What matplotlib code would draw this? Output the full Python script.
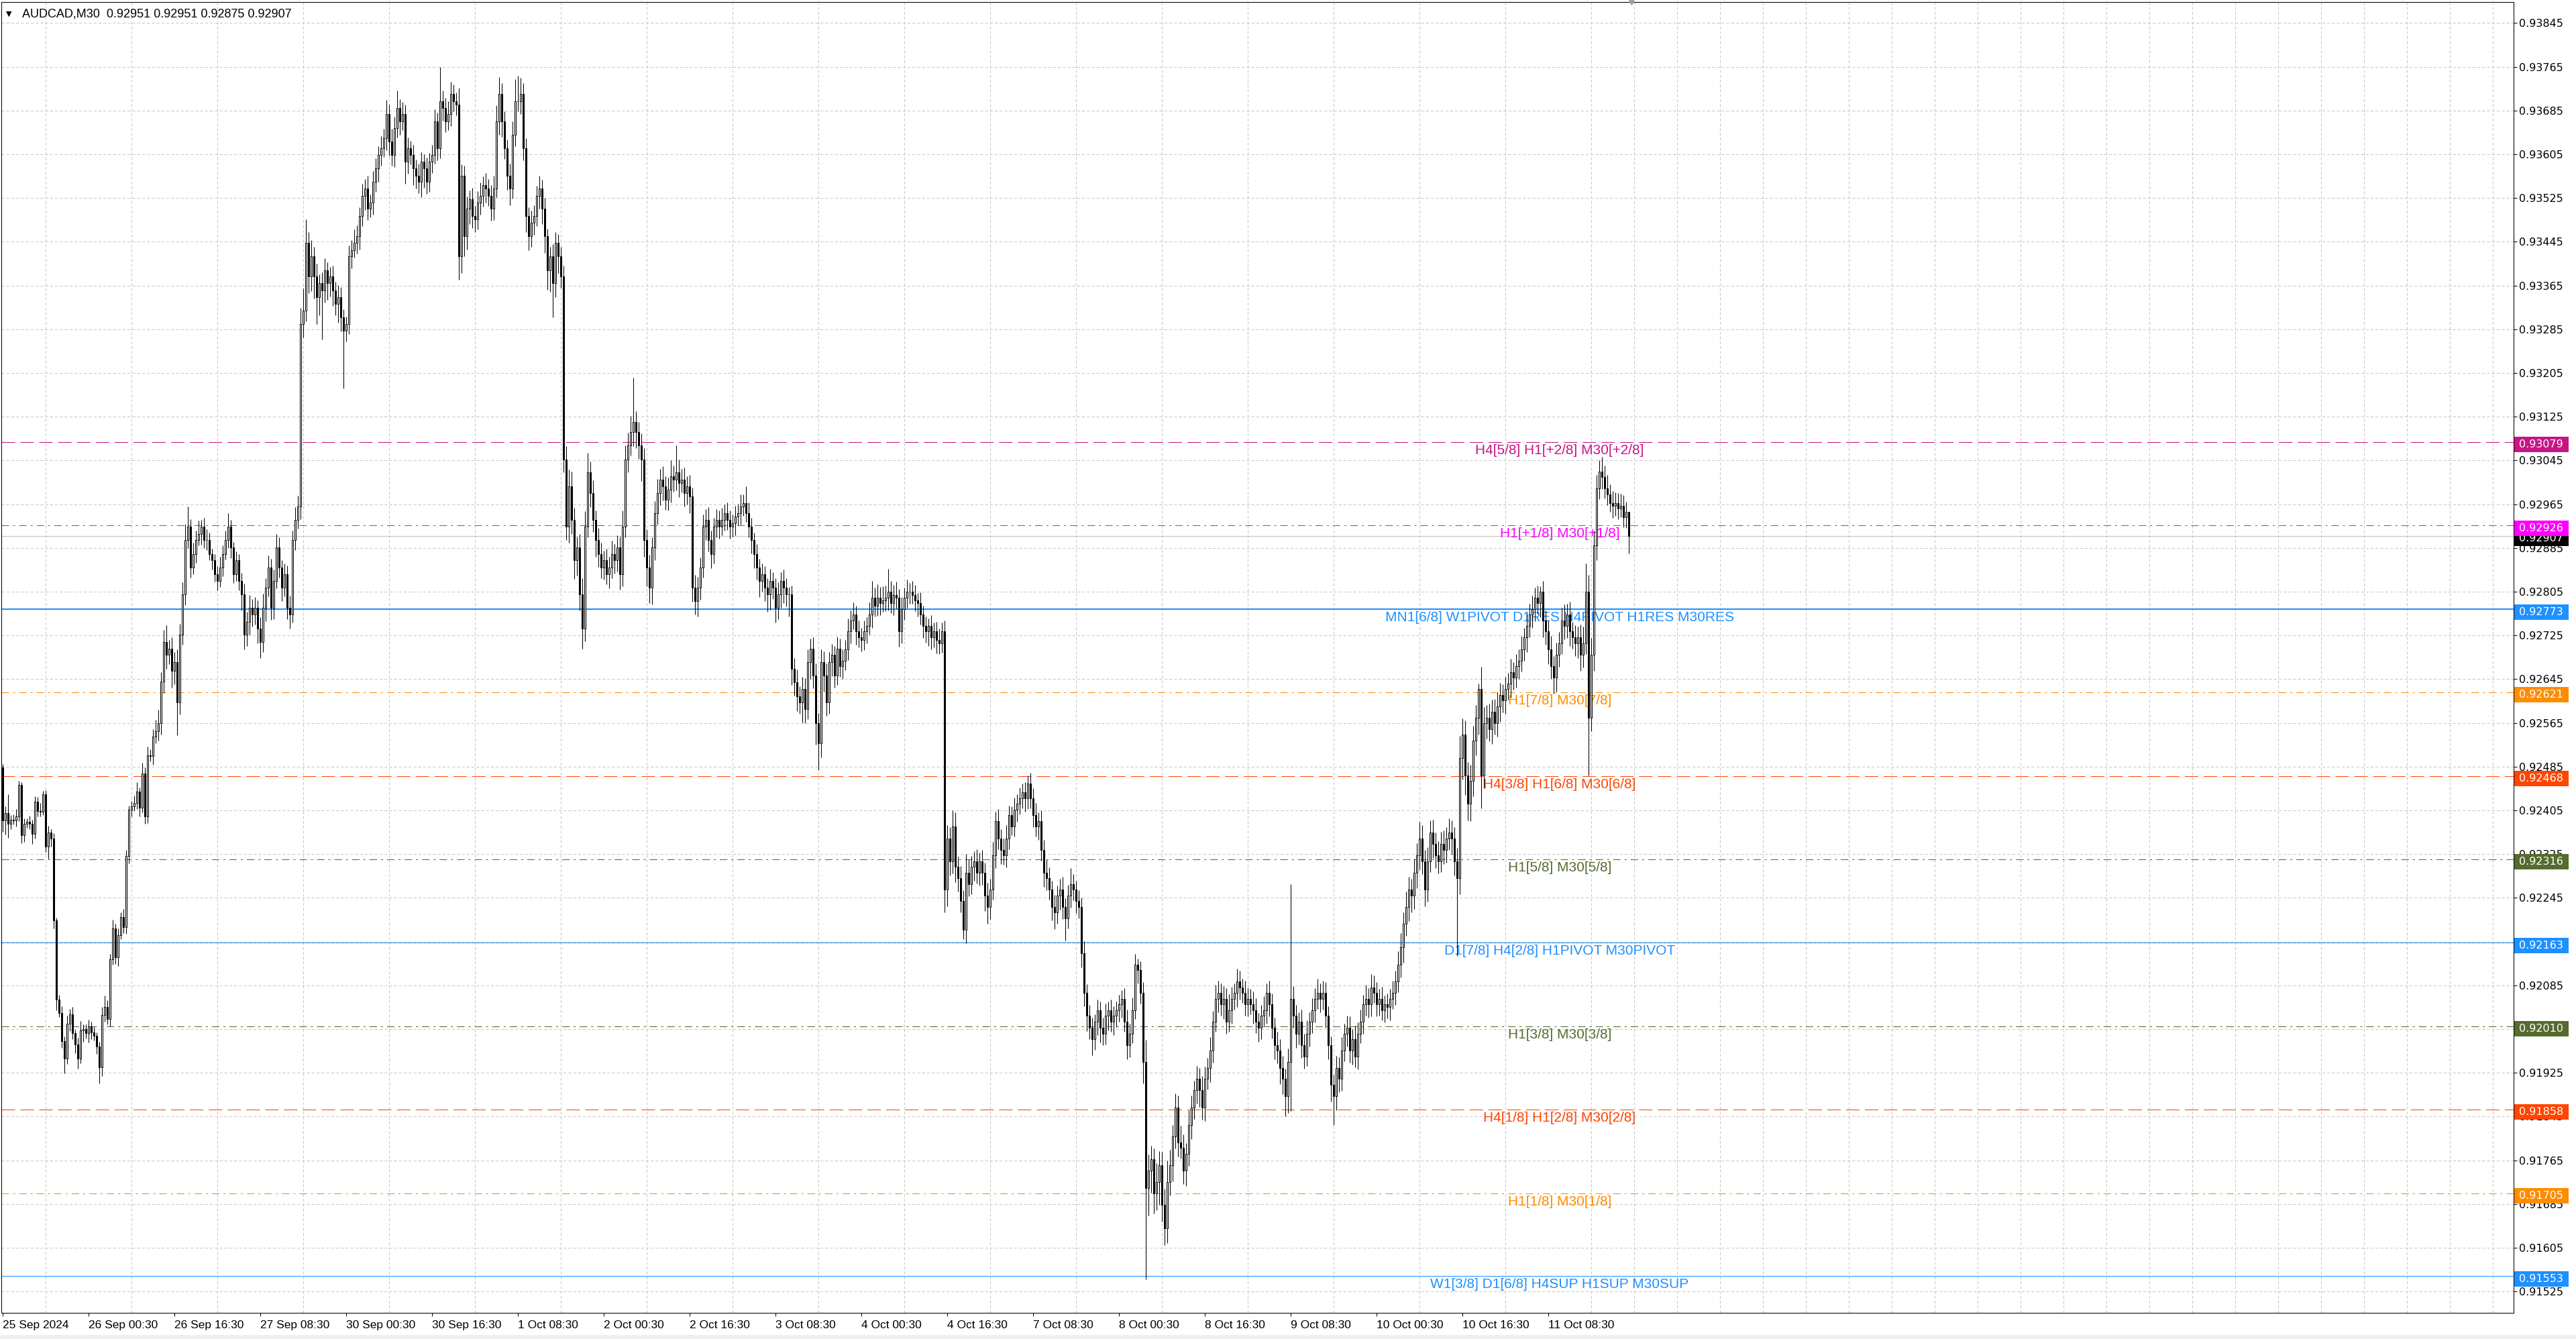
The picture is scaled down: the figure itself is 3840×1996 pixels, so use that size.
import numpy as np
import matplotlib
matplotlib.use("Agg")
import matplotlib.pyplot as plt
import matplotlib.transforms as mtransforms
from matplotlib.patches import Rectangle

plt.rcParams['lines.scale_dashes'] = False

# AUDCAD M30 closes, one per bar, in points above 0.90000 (bar 0 = 25 Sep 08:30)
close_rows = [
    [2386, 2400, 2381, 2388, 2387, 2394, 2451, 2359, 2381, 2384, 2381, 2362, 2421, 2404, 2403, 2434],
    [2339, 2365, 2353, 2204, 2059, 2035, 1983, 1951, 2015, 2032, 1998, 1977, 1951, 2002, 2005, 1998],
    [2010, 1999, 1993, 1973, 1935, 2031, 2046, 2024, 2132, 2189, 2136, 2177, 2210, 2191, 2322, 2406],
    [2412, 2418, 2439, 2410, 2472, 2394, 2506, 2504, 2540, 2550, 2565, 2640, 2713, 2690, 2701, 2660],
    [2676, 2602, 2726, 2800, 2899, 2924, 2849, 2874, 2899, 2911, 2924, 2899, 2899, 2874, 2862, 2837],
    [2825, 2849, 2874, 2899, 2924, 2886, 2837, 2862, 2825, 2800, 2726, 2750, 2775, 2763, 2775, 2738],
    [2713, 2775, 2812, 2849, 2775, 2825, 2886, 2849, 2812, 2837, 2775, 2763, 2899, 2936, 2961, 3294],
    [3319, 3443, 3381, 3418, 3381, 3344, 3369, 3356, 3393, 3369, 3381, 3356, 3331, 3344, 3307, 3282],
    [3294, 3418, 3430, 3443, 3455, 3492, 3529, 3542, 3505, 3517, 3554, 3579, 3604, 3616, 3634, 3678],
    [3628, 3604, 3653, 3690, 3665, 3678, 3591, 3616, 3604, 3579, 3566, 3554, 3591, 3579, 3554, 3591],
    [3604, 3665, 3616, 3702, 3690, 3665, 3678, 3715, 3702, 3696, 3418, 3566, 3455, 3505, 3523, 3492],
    [3486, 3517, 3529, 3548, 3542, 3529, 3505, 3542, 3665, 3715, 3665, 3616, 3566, 3542, 3641, 3702],
    [3702, 3715, 3616, 3492, 3455, 3480, 3492, 3529, 3542, 3505, 3455, 3393, 3418, 3369, 3443, 3418],
    [3381, 3047, 2924, 2998, 2936, 2862, 2886, 2800, 2738, 2924, 3023, 2985, 2936, 2899, 2874, 2849],
    [2862, 2837, 2849, 2874, 2862, 2886, 2837, 2924, 3047, 3072, 3097, 3115, 3097, 3072, 3047, 2899],
    [2849, 2812, 2886, 2948, 2985, 3010, 2998, 2973, 2992, 3016, 3010, 3023, 3004, 3010, 2985, 2998],
    [2979, 2812, 2788, 2812, 2849, 2924, 2936, 2899, 2874, 2924, 2936, 2924, 2936, 2948, 2936, 2924],
    [2930, 2942, 2948, 2961, 2967, 2948, 2924, 2899, 2874, 2849, 2825, 2837, 2812, 2800, 2825, 2812],
    [2775, 2800, 2825, 2812, 2800, 2800, 2664, 2639, 2614, 2602, 2627, 2590, 2676, 2701, 2652, 2565],
    [2528, 2676, 2652, 2602, 2676, 2689, 2652, 2701, 2669, 2679, 2700, 2732, 2752, 2763, 2732, 2721],
    [2716, 2732, 2742, 2763, 2794, 2779, 2794, 2784, 2789, 2794, 2805, 2784, 2799, 2794, 2732, 2773],
    [2794, 2805, 2805, 2799, 2789, 2784, 2763, 2742, 2732, 2742, 2721, 2732, 2716, 2711, 2732, 2260],
    [2354, 2312, 2375, 2302, 2281, 2239, 2186, 2291, 2270, 2302, 2312, 2291, 2312, 2291, 2249, 2228],
    [2260, 2323, 2385, 2354, 2333, 2323, 2354, 2396, 2375, 2406, 2417, 2427, 2438, 2427, 2454, 2427],
    [2396, 2375, 2385, 2333, 2291, 2281, 2260, 2228, 2218, 2249, 2260, 2228, 2207, 2249, 2270, 2260],
    [2239, 2228, 2144, 2071, 2029, 2008, 1987, 2018, 2039, 2008, 1997, 2029, 2039, 2018, 2029, 2039],
    [2050, 2060, 2018, 1976, 1997, 2039, 2123, 2113, 2071, 1945, 1714, 1746, 1767, 1704, 1725, 1756],
    [1683, 1641, 1725, 1756, 1809, 1861, 1798, 1788, 1746, 1777, 1830, 1861, 1893, 1914, 1893, 1861],
    [1914, 1934, 1966, 2018, 2060, 2071, 2050, 2060, 2018, 2039, 2060, 2071, 2092, 2081, 2071, 2050],
    [2060, 2050, 2039, 2018, 2008, 2029, 2039, 2071, 2050, 2008, 1976, 1966, 1934, 1914, 1882, 1945],
    [2060, 2029, 1997, 2018, 1976, 1955, 1997, 2018, 2039, 2060, 2071, 2060, 2071, 2029, 1976, 1903],
    [1882, 1934, 1914, 1966, 1997, 2008, 1966, 1987, 1955, 1997, 2018, 2050, 2060, 2050, 2081, 2071],
    [2050, 2060, 2039, 2050, 2045, 2060, 2071, 2092, 2123, 2155, 2197, 2228, 2260, 2249, 2291, 2323],
    [2354, 2312, 2260, 2312, 2364, 2344, 2323, 2312, 2344, 2333, 2354, 2364, 2354, 2312, 2281, 2501],
    [2543, 2469, 2417, 2459, 2532, 2574, 2627, 2469, 2564, 2574, 2553, 2585, 2564, 2595, 2616, 2606],
    [2627, 2637, 2658, 2648, 2669, 2679, 2700, 2721, 2742, 2763, 2773, 2794, 2784, 2805, 2752, 2732],
    [2700, 2669, 2648, 2690, 2711, 2752, 2742, 2763, 2732, 2721, 2711, 2721, 2690, 2711, 2805, 2574],
    [2690, 2889, 2994, 3025, 3015, 2994, 2983, 2967, 2962, 2967, 2957, 2962, 2941, 2951, 2907],
]
first_open = 2484

# wick lengths in points: above max(open, close) and below min(open, close)
upper_wick_rows = [
    [6, 12, 35, 8, 10, 14, 8, 5, 9, 6, 11, 7, 10, 8, 14, 6],
    [8, 12, 6, 10, 5, 9, 12, 8, 15, 10, 14, 6, 12, 18, 9, 8],
    [12, 8, 10, 6, 9, 14, 20, 12, 10, 16, 8, 12, 9, 14, 10, 8],
    [10, 14, 18, 8, 20, 12, 16, 10, 14, 20, 24, 18, 22, 30, 16, 20],
    [18, 24, 20, 22, 30, 37, 14, 20, 18, 24, 12, 16, 20, 14, 10, 12],
    [14, 20, 16, 18, 24, 12, 10, 16, 12, 14, 20, 18, 24, 16, 20, 14],
    [20, 26, 18, 22, 16, 20, 24, 18, 14, 20, 16, 22, 18, 24, 20, 30],
    [40, 43, 20, 30, 18, 24, 16, 20, 22, 14, 18, 20, 16, 22, 18, 14],
    [14, 20, 18, 24, 20, 16, 22, 18, 24, 14, 20, 18, 16, 22, 18, 26],
    [18, 24, 20, 31, 16, 22, 18, 20, 14, 18, 16, 22, 18, 14, 20, 16],
    [18, 22, 16, 62, 20, 18, 24, 22, 18, 16, 30, 20, 18, 22, 16, 20],
    [18, 20, 24, 16, 22, 18, 20, 24, 30, 31, 20, 18, 16, 22, 24, 40],
    [47, 30, 20, 18, 16, 22, 20, 18, 24, 16, 20, 14, 18, 22, 20, 16],
    [18, 20, 24, 30, 26, 22, 20, 24, 30, 28, 36, 20, 24, 18, 22, 20],
    [18, 22, 20, 24, 18, 22, 20, 30, 26, 24, 30, 81, 20, 18, 22, 20],
    [20, 24, 18, 22, 26, 20, 24, 18, 22, 30, 20, 49, 24, 20, 22, 18],
    [20, 16, 24, 20, 18, 22, 20, 24, 18, 16, 20, 18, 22, 16, 20, 18],
    [16, 20, 18, 22, 16, 30, 20, 16, 14, 18, 16, 20, 14, 18, 22, 16],
    [18, 22, 16, 20, 18, 14, 16, 20, 24, 18, 22, 20, 24, 18, 20, 22],
    [18, 24, 20, 22, 18, 20, 16, 22, 18, 20, 16, 24, 18, 22, 16, 20],
    [18, 20, 16, 22, 30, 18, 24, 20, 26, 22, 42, 20, 18, 24, 16, 22],
    [18, 22, 16, 20, 18, 14, 20, 16, 18, 14, 20, 16, 18, 22, 16, 20],
    [24, 20, 30, 26, 18, 22, 20, 34, 24, 20, 18, 22, 16, 20, 18, 24],
    [20, 24, 18, 22, 16, 20, 24, 18, 16, 22, 18, 20, 16, 18, 15, 20],
    [18, 22, 16, 20, 18, 24, 20, 16, 22, 18, 20, 24, 16, 20, 30, 18],
    [16, 20, 18, 22, 16, 20, 18, 14, 20, 16, 18, 22, 16, 20, 18, 16],
    [18, 16, 20, 22, 18, 24, 20, 11, 16, 20, 40, 30, 24, 20, 34, 26],
    [24, 30, 40, 28, 20, 26, 22, 30, 24, 20, 26, 22, 18, 24, 20, 26],
    [22, 18, 24, 20, 26, 22, 18, 24, 20, 30, 22, 18, 24, 20, 16, 22],
    [20, 18, 24, 22, 16, 20, 26, 18, 22, 20, 18, 24, 20, 22, 18, 24],
    [210, 24, 20, 18, 22, 20, 24, 18, 22, 20, 26, 18, 22, 20, 18, 16],
    [18, 22, 20, 24, 18, 22, 20, 18, 24, 20, 22, 18, 26, 20, 24, 22],
    [20, 18, 22, 16, 20, 18, 22, 20, 24, 26, 22, 28, 24, 20, 26, 22],
    [30, 24, 20, 26, 22, 24, 20, 26, 22, 24, 20, 26, 22, 20, 24, 40],
    [30, 26, 24, 30, 28, 24, 10, 40, 30, 24, 26, 22, 24, 26, 22, 20],
    [22, 20, 24, 18, 22, 20, 24, 18, 22, 20, 24, 18, 22, 10, 20, 18],
    [20, 24, 18, 22, 20, 24, 30, 20, 24, 18, 22, 20, 24, 30, 52, 30],
    [30, 28, 24, 21, 26, 20, 24, 18, 22, 20, 18, 22, 20, 18, 0],
]
lower_wick_rows = [
    [20, 25, 26, 10, 8, 12, 9, 14, 12, 8, 10, 18, 8, 10, 9, 7],
    [10, 22, 14, 15, 20, 8, 12, 27, 10, 14, 12, 16, 18, 8, 20, 10],
    [18, 12, 9, 14, 30, 16, 12, 10, 14, 9, 12, 16, 8, 10, 12, 14],
    [12, 8, 10, 16, 9, 14, 12, 10, 16, 12, 18, 22, 20, 26, 18, 30],
    [24, 60, 22, 18, 20, 14, 18, 12, 16, 10, 20, 14, 18, 12, 16, 14],
    [18, 12, 16, 10, 14, 20, 16, 12, 18, 30, 26, 20, 24, 22, 18, 28],
    [30, 18, 24, 16, 22, 20, 14, 18, 24, 16, 20, 26, 14, 18, 16, 24],
    [24, 20, 30, 26, 40, 50, 34, 90, 22, 30, 24, 28, 20, 34, 26, 105],
    [20, 18, 22, 14, 20, 24, 18, 26, 20, 16, 22, 18, 24, 20, 16, 22],
    [26, 20, 22, 18, 24, 16, 40, 22, 18, 30, 24, 20, 28, 36, 22, 18],
    [20, 16, 22, 18, 24, 20, 16, 22, 18, 20, 43, 30, 36, 24, 28, 22],
    [24, 18, 22, 20, 26, 18, 22, 20, 16, 24, 28, 20, 26, 30, 18, 22],
    [18, 24, 22, 30, 26, 20, 22, 18, 24, 28, 30, 36, 40, 62, 26, 30],
    [20, 24, 25, 30, 26, 34, 28, 30, 37, 24, 20, 26, 22, 30, 24, 20],
    [22, 18, 26, 20, 24, 20, 28, 22, 20, 24, 18, 26, 30, 24, 40, 30],
    [34, 28, 30, 24, 20, 22, 26, 18, 20, 24, 22, 20, 26, 18, 24, 20],
    [30, 26, 25, 28, 22, 18, 24, 20, 26, 18, 20, 22, 16, 20, 18, 22],
    [18, 22, 16, 20, 18, 16, 20, 24, 26, 22, 30, 20, 24, 32, 28, 20],
    [26, 20, 24, 28, 22, 40, 30, 24, 28, 20, 36, 26, 18, 30, 24, 40],
    [50, 26, 30, 24, 20, 26, 22, 18, 20, 24, 18, 20, 22, 16, 24, 18],
    [20, 18, 22, 16, 24, 20, 18, 22, 16, 20, 24, 18, 22, 20, 28, 22],
    [20, 18, 22, 16, 20, 24, 18, 22, 20, 26, 22, 18, 24, 20, 18, 42],
    [30, 26, 22, 28, 24, 20, 16, 24, 22, 18, 26, 20, 24, 22, 28, 30],
    [22, 18, 24, 20, 26, 18, 22, 20, 16, 18, 22, 20, 18, 24, 20, 18],
    [22, 18, 24, 20, 26, 22, 18, 24, 30, 20, 26, 22, 40, 18, 22, 20],
    [22, 20, 26, 24, 28, 22, 30, 20, 24, 28, 22, 20, 26, 18, 24, 20],
    [20, 24, 18, 26, 22, 18, 16, 24, 20, 40, 167, 50, 40, 36, 30, 42],
    [30, 31, 28, 24, 30, 22, 26, 20, 24, 28, 22, 26, 20, 24, 30, 22],
    [24, 20, 26, 22, 18, 24, 20, 26, 22, 18, 24, 20, 26, 22, 18, 20],
    [22, 18, 24, 20, 26, 22, 18, 24, 22, 20, 26, 24, 30, 28, 37, 30],
    [90, 22, 26, 20, 24, 22, 18, 24, 20, 22, 18, 24, 20, 22, 26, 30],
    [52, 26, 24, 22, 20, 24, 22, 26, 20, 24, 18, 22, 20, 24, 22, 18],
    [22, 20, 18, 22, 20, 24, 18, 22, 20, 24, 28, 22, 26, 30, 24, 28],
    [26, 24, 30, 22, 20, 26, 24, 22, 20, 26, 24, 22, 30, 26, 142, 30],
    [40, 36, 30, 32, 28, 26, 30, 60, 24, 28, 22, 26, 20, 24, 28, 22],
    [24, 20, 26, 22, 18, 24, 20, 22, 26, 20, 24, 22, 20, 26, 30, 24],
    [28, 24, 30, 26, 22, 20, 24, 22, 26, 20, 24, 28, 30, 24, 20, 105],
    [24, 30, 26, 20, 22, 18, 20, 16, 22, 18, 20, 16, 18, 20, 32],
]

# indicator levels
level_prices = [0.93079, 0.92926, 0.92773, 0.92621, 0.92468, 0.92316,
                0.92163, 0.92010, 0.91858, 0.91705, 0.91553]
level_names = ["H4[5/8] H1[+2/8] M30[+2/8]",
               "H1[+1/8] M30[+1/8]",
               "MN1[6/8] W1PIVOT D1RES H4PIVOT H1RES M30RES",
               "H1[7/8] M30[7/8]",
               "H4[3/8] H1[6/8] M30[6/8]",
               "H1[5/8] M30[5/8]",
               "D1[7/8] H4[2/8] H1PIVOT M30PIVOT",
               "H1[3/8] M30[3/8]",
               "H4[1/8] H1[2/8] M30[2/8]",
               "H1[1/8] M30[1/8]",
               "W1[3/8] D1[6/8] H4SUP H1SUP M30SUP"]
level_colors = ["#C71585", "#FF00FF", "#1E90FF", "#FF8C00", "#FF4500", "#556B2F",
                "#1E90FF", "#556B2F", "#FF4500", "#FF8C00", "#1E90FF"]
level_kinds = ["dash", "dashdot", "thick", "dashdot", "dash", "dashdot",
               "solid", "dashdot", "dash", "dashdot", "solid"]

price_ticks = [0.91525, 0.91605, 0.91685, 0.91765, 0.91845, 0.91925, 0.92005, 0.92085,
               0.92165, 0.92245, 0.92325, 0.92405, 0.92485, 0.92565, 0.92645, 0.92725,
               0.92805, 0.92885, 0.92965, 0.93045, 0.93125, 0.93205, 0.93285, 0.93365,
               0.93445, 0.93525, 0.93605, 0.93685, 0.93765, 0.93845]
time_labels = ["25 Sep 2024", "26 Sep 00:30", "26 Sep 16:30", "27 Sep 08:30", "30 Sep 00:30",
               "30 Sep 16:30", "1 Oct 08:30", "2 Oct 00:30", "2 Oct 16:30", "3 Oct 08:30",
               "4 Oct 00:30", "4 Oct 16:30", "7 Oct 08:30", "8 Oct 00:30", "8 Oct 16:30",
               "9 Oct 08:30", "10 Oct 00:30", "10 Oct 16:30", "11 Oct 08:30"]
bars_per_label = 32

# build OHLC
close_pts = np.concatenate(close_rows)
up_w = np.concatenate(upper_wick_rows)
lo_w = np.concatenate(lower_wick_rows)
assert len(close_pts) == len(up_w) == len(lo_w)
open_pts = np.r_[first_open, close_pts[:-1]]
c = 0.9 + close_pts / 1e5
o = 0.9 + open_pts / 1e5
h = np.maximum(o, c) + up_w / 1e5
l = np.minimum(o, c) - lo_w / 1e5
idx = np.arange(len(c))

W, H = 3840, 1996
fig = plt.figure(figsize=(W / 100, H / 100), dpi=100)
fig.patch.set_facecolor('white')
ax = fig.add_axes([2 / W, 39 / H, 3745 / W, 1954 / H])
ax.set_xlim(-0.5, 935.75)
ax.set_ylim(0.91486, 0.938834)

grid_kw = dict(color='#c8c8c8', linestyle=(0, (3, 2.2)), lw=0.75)
ax.set_axisbelow(True)

# y axis on the right
ax.yaxis.tick_right()
ax.set_yticks(price_ticks)
ax.set_yticklabels([f"{t:.5f}" for t in price_ticks], fontsize=11.5, family='DejaVu Sans')
ax.tick_params(axis='y', direction='out', length=3.6, width=0.75, pad=2.2)
ax.yaxis.grid(True, **grid_kw)

# x axis
ax.set_xticks(np.arange(len(time_labels)) * bars_per_label)
ax.set_xticklabels(time_labels, fontsize=12.5, family='Liberation Sans', ha='left')
ax.set_xticks(np.arange(0, 936, 16), minor=True)
ax.tick_params(axis='x', which='major', direction='out', length=3.6, width=0.75, pad=4.5)
ax.tick_params(axis='x', which='minor', length=0)
ax.xaxis.grid(True, which='minor', **grid_kw)

for sp in ax.spines.values():
    sp.set_color('black')
    sp.set_linewidth(0.75)

# levels
styles = {"dash": ((0, (14.4, 5.8)), 0.75), "dashdot": ((0, (8, 4.3, 2.2, 4.3)), 0.75),
          "thick": ('-', 1.44), "solid": ('-', 0.75)}
for price, name, col, kind in zip(level_prices, level_names, level_colors, level_kinds):
    ls, lw = styles[kind]
    ax.axhline(price, color=col, linestyle=ls, lw=lw, zorder=1.5)
    ax.annotate(name, xy=(580.25, price), xytext=(0, -3), textcoords='offset pixels',
                ha='center', va='top', color=col, fontsize=15, family='Liberation Sans',
                zorder=2)

# bid line
ax.axhline(c[-1], color='#c0c0c0', lw=0.75, zorder=1.4)

# candles
bull = c >= o
ax.vlines(idx, l, h, color='black', lw=0.75, zorder=3)
ax.bar(idx, c - o, bottom=o, width=0.55, color=np.where(bull, 'white', 'black'),
       edgecolor='black', linewidth=0.75, zorder=4)

# chart shift marker
ax.plot([len(c)], [1.0], marker='v', ms=6, color='#a0a0a0',
        transform=mtransforms.blended_transform_factory(ax.transData, ax.transAxes),
        clip_on=False, zorder=6)

# price boxes on the right scale (sit a few pixels below their level)
box_tr = mtransforms.blended_transform_factory(fig.transFigure, ax.transData)
y0, y1 = ax.get_ylim()
px = (y1 - y0) / 1954
box_h = 23 * px
box_shift = 4 * px


def price_box(price, color, z):
    yc = price - box_shift
    fig.add_artist(Rectangle((3748 / W, yc - box_h / 2), 81 / W, box_h, transform=box_tr,
                             facecolor=color, edgecolor='none', zorder=z, clip_on=False))
    fig.text(3755 / W, yc, f"{price:.5f}", transform=box_tr, color='white',
             fontsize=11.5, family='DejaVu Sans', va='center', ha='left', zorder=z + 0.1)


price_box(c[-1], 'black', 5)
for price, col in zip(level_prices, level_colors):
    price_box(price, col, 6)

# header
fig.text(9 / W, 1 - 21 / H, "\u25bc", fontsize=8, family='DejaVu Sans', va='center', ha='left')
fig.text(33 / W, 1 - 21 / H,
         f"AUDCAD,M30  {o[-1]:.5f} {h[-1]:.5f} {l[-1]:.5f} {c[-1]:.5f}",
         fontsize=13, family='Liberation Sans', va='center', ha='left')

# window frame bits
fig.add_artist(Rectangle((0, 0), 1, 6 / H, transform=fig.transFigure,
                         facecolor='#f0f0f0', edgecolor='none', zorder=0))

fig.savefig('out.png', dpi=100)
